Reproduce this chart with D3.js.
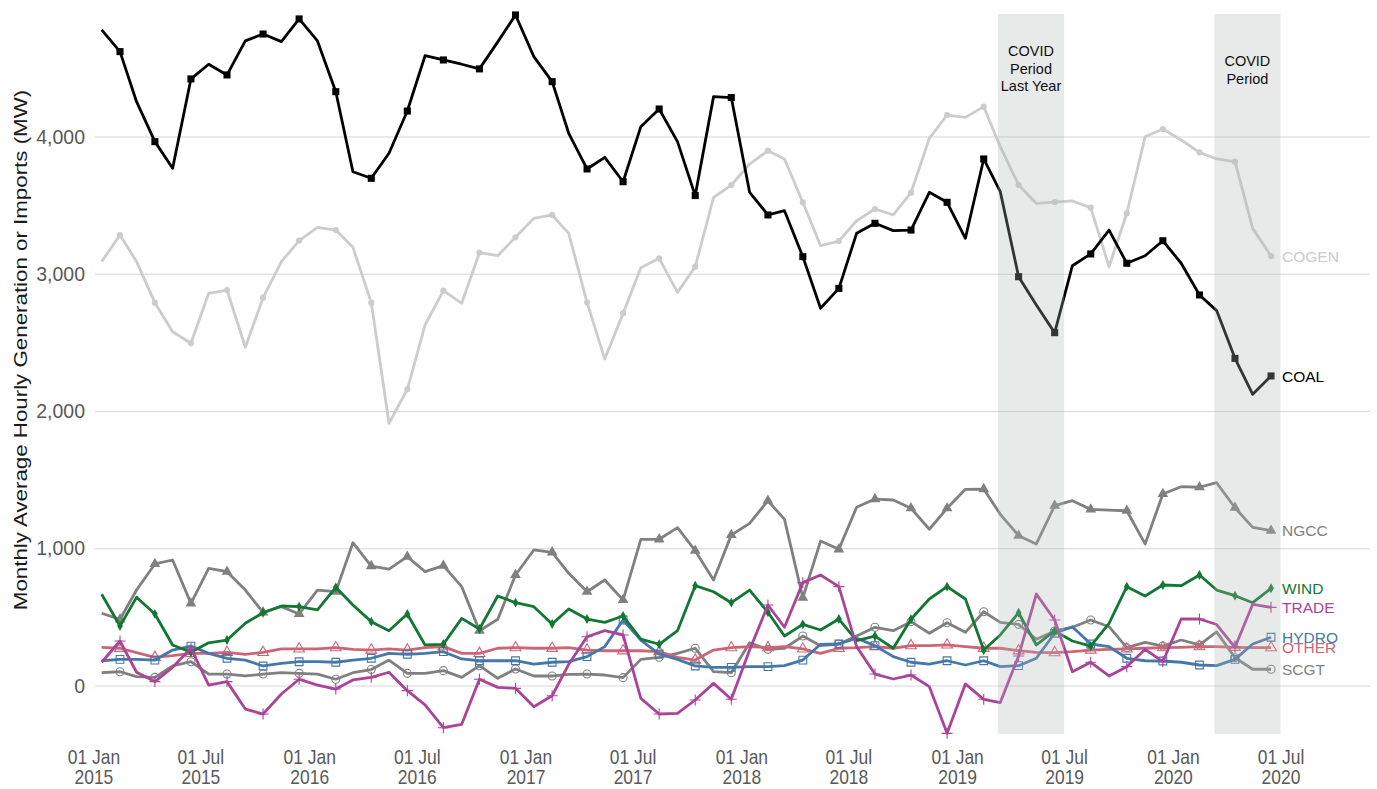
<!DOCTYPE html>
<html><head><meta charset="utf-8">
<script src="https://cdn.jsdelivr.net/npm/d3@7"></script>
<style>
html,body{margin:0;padding:0;background:#fff;}
svg{display:block;font-family:"Liberation Sans",Arial,sans-serif;}
</style></head>
<body><svg id="chart" width="1377" height="789"></svg>
<script>
// ---- data (monthly, Jan 2015 .. Jun 2020) ----
const startYear = 2015, nMonths = 66;
const COAL = [4780,4622,4257,3966,3772,4423,4530,4452,4700,4750,
  4695,4860,4700,4330,3747,3699,3881,4189,4592,4561,
  4530,4496,4693,4889,4585,4403,4027,3767,3852,3674,
  4075,4204,3966,3573,4294,4287,3597,3432,3463,3128,
  2752,2897,3298,3371,3318,3322,3597,3524,3262,3840,
  3602,2982,2776,2574,3062,3148,3322,3080,3135,3244,
  3080,2849,2735,2387,2125,2259];
const COGEN = [3092,3286,3092,2793,2581,2497,2861,2885,2468,2829,
  3092,3245,3342,3322,3196,2793,1914,2162,2630,2880,
  2788,3157,3135,3269,3407,3432,3298,2795,2382,2715,
  3048,3116,2868,3055,3559,3650,3803,3900,3840,3524,
  3208,3242,3390,3475,3432,3594,3990,4160,4143,4221,
  3929,3650,3516,3526,3534,3485,3055,3444,4002,4058,
  3978,3888,3840,3820,3334,3133];
const NGCC = [530,486,699,889,918,602,857,833,699,537,
  578,525,699,687,1044,874,852,942,833,877,
  724,403,486,809,991,974,821,687,772,627,
  1069,1069,1154,986,772,1100,1185,1350,1214,643,
  1056,996,1302,1362,1355,1295,1142,1295,1433,1435,
  1251,1095,1035,1314,1350,1287,1282,1277,1035,1399,
  1452,1448,1481,1299,1156,1132];
const WIND = [668,437,646,525,299,246,315,335,457,534,
  583,578,554,719,590,469,403,525,299,304,
  493,415,656,607,578,452,561,488,464,510,
  342,304,403,731,687,607,699,537,364,449,
  408,488,330,364,275,486,634,724,634,262,
  372,534,299,401,328,291,457,724,656,736,
  731,809,699,658,607,712];
const TRADE = [173,328,100,32,136,275,7,32,-168,-204,
  -58,49,7,-22,44,63,100,-34,-138,-304,
  -279,49,-10,-17,-151,-71,158,359,403,372,
  -90,-204,-199,-102,19,-97,262,590,428,753,
  809,724,287,87,51,80,-5,-345,15,-97,
  -121,219,670,481,104,173,73,141,267,177,
  488,488,448,282,595,573];
const HYDRO = [184,194,194,189,262,291,238,202,189,146,
  165,177,177,173,189,202,238,231,238,250,
  197,184,184,184,160,173,177,214,287,481,
  335,233,194,146,136,136,141,141,148,189,
  304,306,348,294,214,173,160,184,153,184,
  141,148,202,384,432,306,287,202,184,182,
  173,153,148,194,306,355];
const OTHER = [282,275,243,209,221,238,238,245,231,245,
  270,270,270,279,267,262,270,262,279,287,
  238,238,275,279,275,275,279,262,257,257,
  257,250,209,189,262,279,287,279,287,270,
  238,275,279,287,275,294,294,299,287,275,
  275,257,245,243,250,262,267,270,275,279,
  282,287,287,282,279,279];
const SCGT = [97,104,68,63,146,177,87,87,73,87,
  97,92,87,49,97,120,189,92,92,112,
  63,148,56,124,73,73,85,87,80,61,
  194,209,238,275,104,97,315,267,275,364,
  294,306,364,428,403,469,384,461,391,541,
  464,449,340,401,428,481,432,279,318,291,
  335,299,394,206,122,122];

const yTicks = [0,1000,2000,3000,4000];
const xTickLabels = ["01 Jan 2015","01 Jul 2015","01 Jan 2016","01 Jul 2016","01 Jan 2017","01 Jul 2017",
  "01 Jan 2018","01 Jul 2018","01 Jan 2019","01 Jul 2019","01 Jan 2020","01 Jul 2020"];
const covidPeriods = [
  {start:"2019-03-11", end:"2019-07-01", label:["COVID","Period","Last Year"]},
  {start:"2020-03-11", end:"2020-07-01", label:["COVID","Period"]}
];
const yTitle = "Monthly Average Hourly Generation or Imports (MW)";

// ---- series definitions ----
const series = [
  {name:"COGEN", values:COGEN, color:"#cccccc", shape:"circle", fill:true, size:30},
  {name:"COAL",  values:COAL,  color:"#000000", shape:"square", fill:true, size:50},
  {name:"NGCC",  values:NGCC,  color:"#808080", shape:"triangle", fill:true, size:50},
  {name:"SCGT",  values:SCGT,  color:"#808080", shape:"circle", fill:false, size:50},
  {name:"OTHER", values:OTHER, color:"#cc6677", shape:"triangle", fill:false, size:50},
  {name:"HYDRO", values:HYDRO, color:"#4477aa", shape:"square", fill:false, size:60},
  {name:"WIND",  values:WIND,  color:"#117733", shape:"diamond", fill:true, size:28},
  {name:"TRADE", values:TRADE, color:"#aa4499", shape:"plus", fill:false, size:0}
];

const dates = d3.range(nMonths).map(i => new Date(startYear, i, 15));
const parseTick = d3.timeParse("%d %b %Y");

const svg = d3.select("#chart");
const panel = {left:95, right:1370, top:14, bottom:734};

const x = d3.scaleTime()
  .domain([new Date(2015,0,1), new Date(2020,6,1)])
  .range([93.4, 1280.5]);
const y = d3.scaleLinear().domain([-349.7, 4896]).range([panel.bottom, panel.top]);

// gridlines
svg.append("g").selectAll("line").data(yTicks).join("line")
  .attr("x1", panel.left).attr("x2", panel.right)
  .attr("y1", d => y(d)).attr("y2", d => y(d))
  .attr("stroke", "#d6d6d6").attr("stroke-width", 1);

// y axis
const yAxis = svg.append("g").attr("transform", `translate(${panel.left},0)`)
  .call(d3.axisLeft(y).tickValues(yTicks).tickFormat(d3.format(",")).tickSize(0).tickPadding(10));
yAxis.select(".domain").remove();
yAxis.selectAll("text").attr("fill", "#595959").style("font-size", "19.5px")
  .style("font-family", '"Liberation Sans",Arial,sans-serif');

// x axis
const tickDates = xTickLabels.map(parseTick);
const xAxis = svg.append("g").attr("transform", `translate(0,${panel.bottom})`)
  .call(d3.axisBottom(x).tickValues(tickDates).tickSize(0).tickPadding(0).tickFormat(""));
xAxis.select(".domain").remove();
xAxis.selectAll(".tick").each(function(d, i) {
  const parts = xTickLabels[i].split(" ");
  const t = d3.select(this).select("text").text(null).attr("y", 0)
    .attr("transform", "translate(0,16) scale(0.97,1.1)")
    .attr("fill", "#595959").style("font-size", "18px")
    .style("font-family", '"Liberation Sans",Arial,sans-serif');
  t.append("tspan").attr("x", 0).attr("dy", "0.71em").text(parts[0] + " " + parts[1]);
  t.append("tspan").attr("x", 0).attr("dy", "1.03em").text(parts[2]);
});

// y title (stretched along its length, as in the reference)
svg.append("text")
  .attr("transform", `translate(27,${(panel.top+panel.bottom)/2 - 24}) rotate(-90) scale(1.24,1)`)
  .attr("text-anchor", "middle").attr("fill", "#1a1a1a")
  .style("font-size", "18px").text(yTitle);

// lines
const line = d3.line().x((d,i) => x(dates[i])).y(d => y(d));
const symbolTypes = {circle:d3.symbolCircle, square:d3.symbolSquare, triangle:d3.symbolTriangle, diamond:d3.symbolDiamond};

series.forEach(s => {
  const g = svg.append("g");
  g.append("path").attr("d", line(s.values)).attr("fill", "none")
    .attr("stroke", s.color).attr("stroke-width", 2.8).attr("stroke-linejoin", "round");
  const pts = s.values.map((v,i) => ({v, i})).filter(d => d.i % 2 === 1);
  if (s.shape === "plus") {
    g.selectAll("path.m").data(pts).join("path").attr("class","m")
      .attr("transform", d => `translate(${x(dates[d.i])},${y(d.v)})`)
      .attr("d", "M-5.5,0H5.5M0,-5.5V5.5").attr("stroke", s.color).attr("stroke-width", 1.1).attr("fill","none");
  } else {
    const sym = d3.symbol().type(symbolTypes[s.shape]).size(s.size);
    g.selectAll("path.m").data(pts).join("path").attr("class","m")
      .attr("transform", d => `translate(${x(dates[d.i])},${y(d.v)})`)
      .attr("d", sym)
      .attr("fill", s.fill ? s.color : "none")
      .attr("stroke", s.fill ? "none" : s.color).attr("stroke-width", 1.1);
  }
  // end label
  const last = s.values[s.values.length-1];
  svg.append("text").attr("x", x(dates[dates.length-1]) + 11).attr("y", y(last))
    .attr("dy", "0.36em").attr("fill", s.color).style("font-size", "15.5px").text(s.name);
});

// covid shading (drawn over lines with alpha)
covidPeriods.forEach(p => {
  const x0 = x(new Date(p.start + "T00:00")), x1 = x(new Date(p.end + "T00:00"));
  svg.append("rect").attr("x", x0).attr("y", panel.top).attr("width", x1 - x0)
    .attr("height", panel.bottom - panel.top).attr("fill", "rgb(175,178,178)").attr("fill-opacity", 0.29);
  const t = svg.append("text").attr("text-anchor", "middle").attr("fill", "#111").style("font-size", "14.5px");
  const baseY = p.label.length === 3 ? 56 : 66;
  p.label.forEach((l, k) => t.append("tspan").attr("x", (x0+x1)/2).attr("y", baseY + k*17.7).text(l));
});
</script>
</body></html>
